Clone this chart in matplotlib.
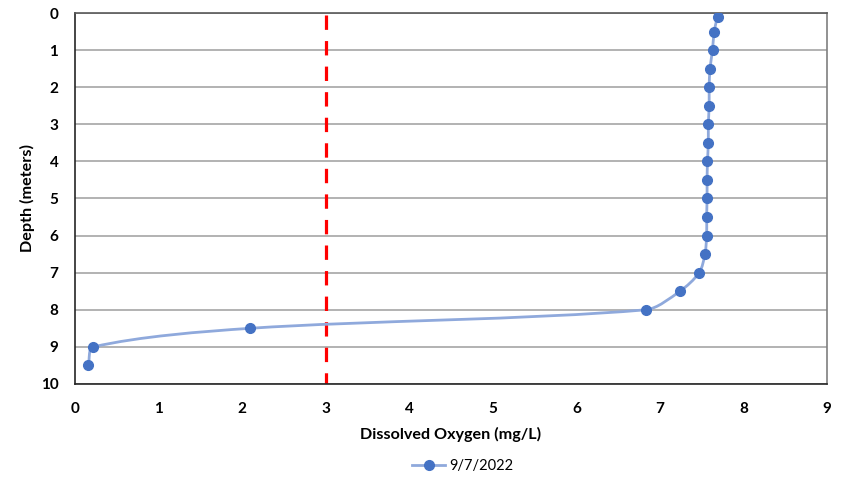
import numpy as np
import matplotlib
matplotlib.use("Agg")
import matplotlib.pyplot as plt
from matplotlib.path import Path
from matplotlib.patches import PathPatch
from matplotlib.lines import Line2D

plt.rcParams['font.family'] = ['Lato', 'DejaVu Sans']

# profile 9/7/2022
depth = [0.1, 0.5, 1.0, 1.5, 2.0, 2.5, 3.0, 3.5, 4.0, 4.5, 5.0, 5.5, 6.0, 6.5,
         7.0, 7.5, 8.0, 8.5, 9.0, 9.5]
do_mgl = [7.69, 7.65, 7.63, 7.60, 7.59, 7.59, 7.58, 7.58, 7.57, 7.565, 7.565,
          7.56, 7.56, 7.54, 7.47, 7.24, 6.83, 2.09, 0.22, 0.16]
series_label = '9/7/2022'
threshold = 3

x_ticks = list(range(0, 10))
y_ticks = list(range(0, 11))

line_col = '#8fa9dc'
mark_col = '#4472c4'

# pixels per data unit, so the smoothing is done in screen space like Excel
SX, SY = 83.6, 37.1


def smooth_path(xs, ys, k=0.3):
    s = np.column_stack([np.asarray(xs) * SX, np.asarray(ys) * SY])
    n = len(s)
    tang = []
    for i in range(n):
        a = s[max(i - 1, 0)]
        b = s[min(i + 1, n - 1)]
        d = b - a
        tang.append(d / np.hypot(*d))
    pts = [s[0]]
    codes = [Path.MOVETO]
    for i in range(n - 1):
        L = np.hypot(*(s[i + 1] - s[i]))
        pts += [s[i] + tang[i] * L * k, s[i + 1] - tang[i + 1] * L * k, s[i + 1]]
        codes += [Path.CURVE4] * 3
    pts = np.array(pts) / [SX, SY]
    return Path(pts, codes)


fig = plt.figure(figsize=(8.46, 4.78), dpi=100)
ax = fig.add_axes([0.0887, 0.1967, 0.8888, 0.7761])

ax.add_patch(PathPatch(smooth_path(do_mgl, depth), fill=False,
                       edgecolor=line_col, lw=2.0, zorder=3))
ax.plot(do_mgl, depth, 'o', color=mark_col, ms=7, zorder=4)

ax.plot([threshold, threshold], [0.05, 10], color='#ff0000', lw=2.3,
        dashes=(4.5, 3.5), zorder=2)

ax.set_xlim(0, 9)
ax.set_ylim(10, 0)
ax.set_xticks(x_ticks)
ax.set_yticks(y_ticks)
ax.tick_params(length=0, labelsize=11)
ax.tick_params(axis='x', pad=13)
ax.tick_params(axis='y', pad=12)
for lb in ax.get_xticklabels() + ax.get_yticklabels():
    lb.set_fontweight('bold')
ax.yaxis.grid(True, color='#a6a6a6', lw=1.2)
ax.set_axisbelow(True)

ax.spines['left'].set_color('#262626')
ax.spines['bottom'].set_color('#262626')
ax.spines['top'].set_color('#595959')
ax.spines['right'].set_color('#7f7f7f')
for s in ax.spines.values():
    s.set_linewidth(1.2)

ax.set_xlabel('Dissolved Oxygen (mg/L)', fontsize=11.6, fontweight='bold', labelpad=8)
ax.set_ylabel('Depth (meters)', fontsize=11.6, fontweight='bold', labelpad=4)

handle = Line2D([], [], color=line_col, lw=2.0, marker='o', ms=7,
                markerfacecolor=mark_col, markeredgecolor=mark_col)
fig.legend([handle], [series_label], loc='center', bbox_to_anchor=(0.547, 0.025),
           frameon=False, fontsize=10.5, handlelength=2.3, handletextpad=0.3)

fig.savefig('out.png', dpi=100)
